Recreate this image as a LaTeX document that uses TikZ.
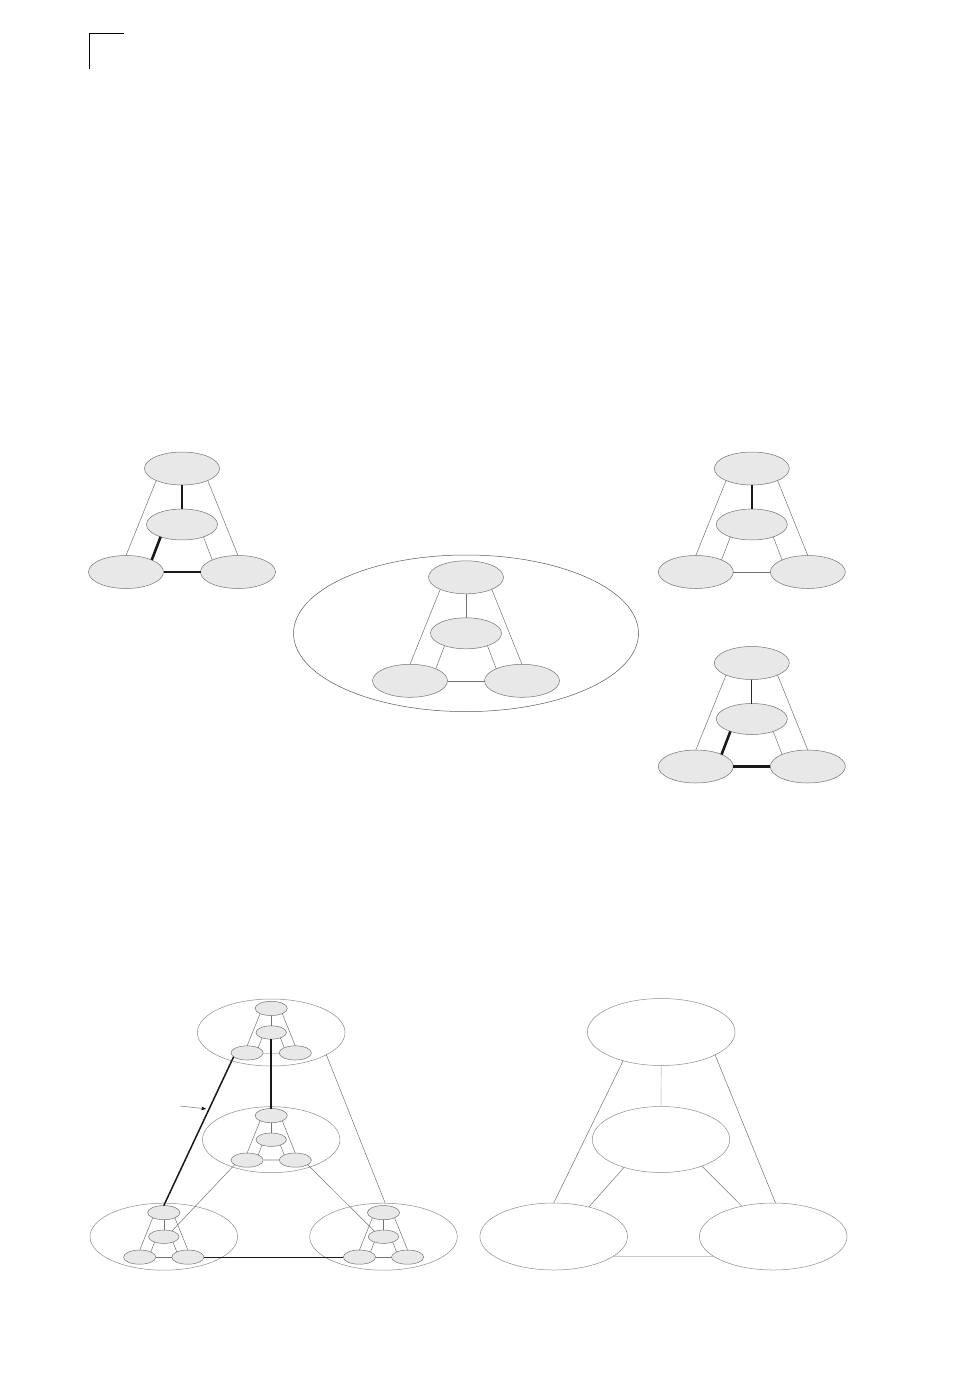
\documentclass[tikz,border=0pt]{standalone}
\usetikzlibrary{calc,positioning,arrows.meta,shapes.geometric}
\tikzset{
  site/.style={
    draw=black!55,
    fill=black!9,
    ellipse,
    line width=0.5pt,
    inner sep=0pt, outer sep=0pt,
    minimum width=75pt, minimum height=33pt
  },
  core/.style={site, minimum width=71pt, minimum height=31pt},
  zone/.style={
    draw=black!45,
    ellipse,
    line width=0.5pt,
    inner sep=0pt, outer sep=0pt,
    minimum width=147.6pt, minimum height=67pt
  },
  link/.style={draw=black!55, line width=0.5pt},
  faint/.style={draw=black!22, line width=0.7pt},
  pale/.style={draw=black!18, line width=1.5pt},
  firm/.style={draw=black!85, line width=1pt},
  heavy/.style={draw=black!90, line width=2.6pt},
  trunk/.style={draw=black!90, line width=1.5pt}
}
\begin{document}
\begin{tikzpicture}[x=1pt,y=-1pt]
		\useasboundingbox (0,0) rectangle (954,1388);
		\draw[line width=0.8pt] (89,69) -- (89,33) -- (124,33);

		% centres of the rings
		\coordinate (A) at (182,524.5);
		\coordinate (C) at (751.8,524.5);
		\coordinate (D) at (751.8,719);
		\node[zone,draw=black!65,minimum width=345pt,minimum height=156.6pt] (B) at (466,633.3) {};
		\node[zone] (E) at (271.2,1032.5) {};
		\node[zone,minimum width=137.4pt,minimum height=66pt] (F) at (271.2,1139.7) {};
		\node[zone] (G) at (163.8,1236.7) {};
		\node[zone] (H) at (383.5,1236.7) {};

		\foreach \n/\s/\tm/\ml/\lr in {A/1/heavy/heavy/heavy, B/1/link/link/link, C/1/heavy/link/link, D/1/firm/heavy/heavy,
				E/0.43/link/link/faint, F/0.43/link/link/pale, G/0.43/link/link/link, H/0.43/link/link/link} {
			\begin{scope}[shift={(\n)},scale=\s,every node/.append style={transform shape}]
				\node[site] (\n-t) at (0,-56) {};
				\node[core] (\n-m) at (0,0) {};
				\node[site] (\n-l) at (-56,47.5) {};
				\node[site] (\n-r) at (56,47.5) {};
			\end{scope}
			\draw[\tm] (\n-t.south) -- (\n-m.north);
			\draw[link] (\n-t.205) -- (\n-l.north);
			\draw[link] (\n-t.335) -- (\n-r.north);
			\draw[\ml] (\n-m.210) -- (\n-l.25);
			\draw[link] (\n-m.330) -- (\n-r.155);
			\draw[\lr] (\n-l.east) -- (\n-r.west);
		}

		% rings joined to rings
		\draw[trunk] (G-t.north) -- (E-l.196) coordinate[pos=0.65] (hit);
		\draw[trunk] (E-m.south) -- (F-t.north);
		\draw[trunk,line width=1.2pt] (G-r.east) -- (H-l.west);
		\draw[link] (E.338) -- (H.87);
		\draw[link] (F-l.200) -- (G-m.35);
		\draw[link] (F-r.340) -- (H-m.149);
		\coordinate (tag) at (180,1106);
		\draw[link,-{Stealth[length=5pt,width=3.5pt,black]}] (tag) -- ([xshift=-3pt]hit);

		\node[zone] (Rt) at (661.2,1032) {};
		\node[zone,minimum width=137.4pt,minimum height=66pt] (Rm) at (661,1139.5) {};
		\node[zone] (Rl) at (553.7,1236.5) {};
		\node[zone] (Rr) at (773.2,1236.5) {};
		\draw[faint] (Rt.south) -- (Rm.north);
		\draw[link] (Rt.217) -- (Rl.north);
		\draw[link] (Rt.337) -- (Rr.86);
		\draw[link] (Rm.217) -- (Rl.40);
		\draw[link] (Rm.327) -- (Rr.136);
		\draw[faint] (Rl.341) -- (Rr.199);
	\end{tikzpicture}
\end{document}
